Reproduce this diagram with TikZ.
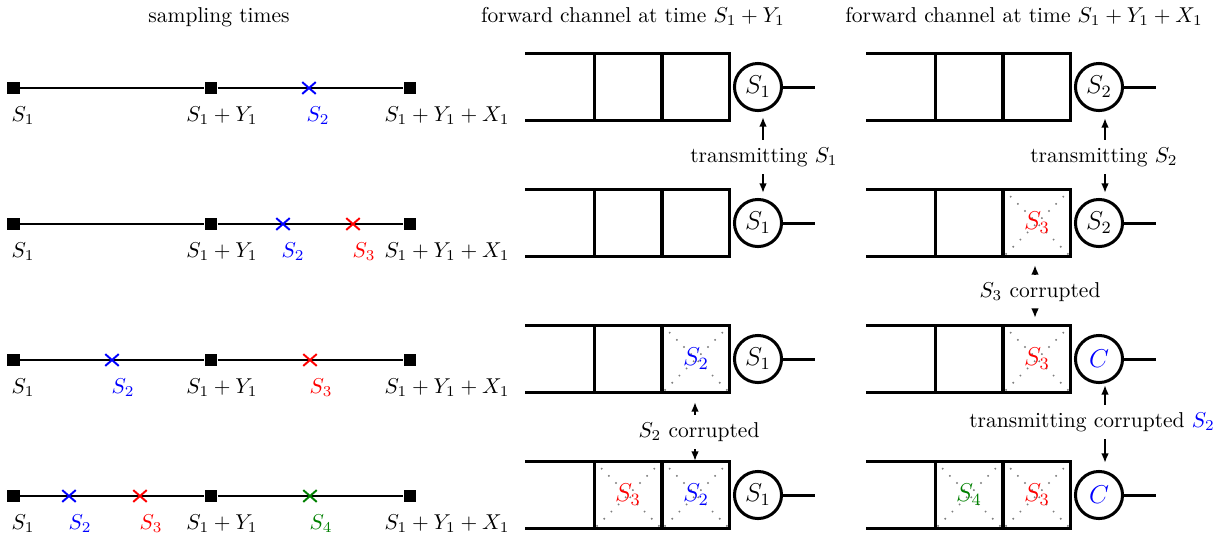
\documentclass[tikz,border=0pt]{standalone}
\usetikzlibrary{arrows.meta,shapes.misc}
\definecolor{dgreen}{rgb}{0,0.5,0}
\tikzset{
 tl/.style={line width=1pt},
 sq/.style={rectangle, fill=black, minimum size=5.8pt, inner sep=0pt},
 xm/.style={cross out, draw=#1, line width=0.9pt, minimum width=5.4pt, minimum height=4.6pt, inner sep=0pt},
 lab/.style={anchor=base, inner sep=0pt},
 qline/.style={line width=1.4pt},
 cell/.style={rectangle, draw, line width=1.4pt, minimum width=31.6pt, minimum height=31.6pt, inner sep=0pt, outer sep=0pt, font=\large},
 bad/.style={path picture={\draw[gray, line width=0.7pt, loosely dotted] (path picture bounding box.north west) -- (path picture bounding box.south east) (path picture bounding box.north east) -- (path picture bounding box.south west);}},
 srv/.style={circle, draw, line width=1.4pt, minimum size=21.9pt, inner sep=0pt, font=\large},
 arr/.style={line width=0.9pt, -{Latex[length=4.5pt,width=3.6pt]}},
}
\newcommand\qrow[8]{%
 \node[cell,#4] (#3A) at (#1+103,#2) {#5};
 \node[cell,#6] (#3B) at (#1+171,#2) {#7};
 \node[srv] (#3S) at (#1+233,#2) {#8};
 \coordinate (#3o) at (#1+290,#2);
 \coordinate (#3tl) at (#3A.north west -| #1,0);
 \coordinate (#3bl) at (#3A.south west -| #1,0);
 \draw[qline] (#3tl) -- (#3B.north east);
 \draw[qline] (#3bl) -- (#3B.south east);
 \draw[qline] (#3S) -- (#3o);
}
\newcommand\tline[2]{%
 \node[sq] (#2a) at (13.5,#1) {};
 \node[sq] (#2b) at (211,#1) {};
 \node[sq] (#2c) at (410,#1) {};
 \draw[tl] (#2a) -- (#2b) -- (#2c);
 \node[lab] (#2la) at (23,#1+33) {$S_1$};
 \node[lab] (#2lb) at (222,#1+33) {$S_1+Y_1$};
 \node[lab] (#2lc) at (447,#1+33) {$S_1+Y_1+X_1$};
}
\begin{document}
\begin{tikzpicture}[x=0.4651pt, y=-0.4651pt]
\useasboundingbox (0,0) rectangle (1215,540);
% titles
\node[lab] (t1) at (219,22) {sampling times};
\node[lab] (t2) at (633,22) {forward channel at time $S_1+Y_1$};
\node[lab] (t3) at (1024,22) {forward channel at time $S_1+Y_1+X_1$};
% timelines
\tline{88}{ra}
\node[xm=blue] (ra2) at (309,88) {};
\node[lab,blue] (ra2l) at (318,121) {$S_2$};
\tline{224}{rb}
\node[xm=blue] (rb2) at (283,224) {};
\node[lab,blue] (rb2l) at (293,257) {$S_2$};
\node[xm=red] (rb3) at (353,224) {};
\node[lab,red] (rb3l) at (364,257) {$S_3$};
\tline{360}{rc}
\node[xm=blue] (rc2) at (112,360) {};
\node[lab,blue] (rc2l) at (123,393) {$S_2$};
\node[xm=red] (rc3) at (310,360) {};
\node[lab,red] (rc3l) at (321,393) {$S_3$};
\tline{496}{rd}
\node[xm=blue] (rd2) at (69,496) {};
\node[lab,blue] (rd2l) at (80,529) {$S_2$};
\node[xm=red] (rd3) at (140,496) {};
\node[lab,red] (rd3l) at (151,529) {$S_3$};
\node[xm=dgreen] (rd4) at (310,496) {};
\node[lab,dgreen] (rd4l) at (321,529) {$S_4$};
% middle queues
\qrow{525}{87}{ma}{}{}{}{}{$S_1$}
\qrow{525}{223}{mb}{}{}{}{}{$S_1$}
\qrow{525}{359}{mc}{}{}{bad,text=blue}{$S_2$}{$S_1$}
\qrow{525}{495}{md}{bad,text=red}{$S_3$}{bad,text=blue}{$S_2$}{$S_1$}
% right queues
\qrow{866}{87}{qa}{}{}{}{}{$S_2$}
\qrow{866}{223}{qb}{}{}{bad,text=red}{$S_3$}{$S_2$}
\qrow{866}{359}{qc}{}{}{bad,text=red}{$S_3$}{\textcolor{blue}{$C$}}
\qrow{866}{495}{qd}{bad,text=dgreen}{$S_4$}{bad,text=red}{$S_3$}{\textcolor{blue}{$C$}}
% annotations
\node (n1) at (764,157) {transmitting $S_1$};
\coordinate (n1u) at (763,117);
\coordinate (n1d) at (763,193);
\draw[arr] (n1.north -| n1u) -- (n1u);
\draw[arr] (n1.south -| n1d) -- (n1d);
\node (n2) at (1104,157) {transmitting $S_2$};
\coordinate (n2u) at (1105,118);
\coordinate (n2d) at (1105,193);
\draw[arr] (n2.north -| n2u) -- (n2u);
\draw[arr] (n2.south -| n2d) -- (n2d);
\node (n3) at (699,432) {$S_2$ corrupted};
\coordinate (n3u) at (695,402);
\coordinate (n3d) at (695,461);
\draw[arr] (n3.north -| n3u) -- (n3u);
\draw[arr] (n3.south -| n3d) -- (n3d);
\node (n4) at (1040,292) {$S_3$ corrupted};
\coordinate (n4u) at (1035,265);
\coordinate (n4d) at (1035,318);
\draw[arr] (n4.north -| n4u) -- (n4u);
\draw[arr] (n4.south -| n4d) -- (n4d);
\node (n5) at (1092,422) {transmitting corrupted \textcolor{blue}{$S_2$}};
\coordinate (n5u) at (1105,385);
\coordinate (n5d) at (1105,463);
\draw[arr] (n5.north -| n5u) -- (n5u);
\draw[arr] (n5.south -| n5d) -- (n5d);
\end{tikzpicture}
\end{document}
